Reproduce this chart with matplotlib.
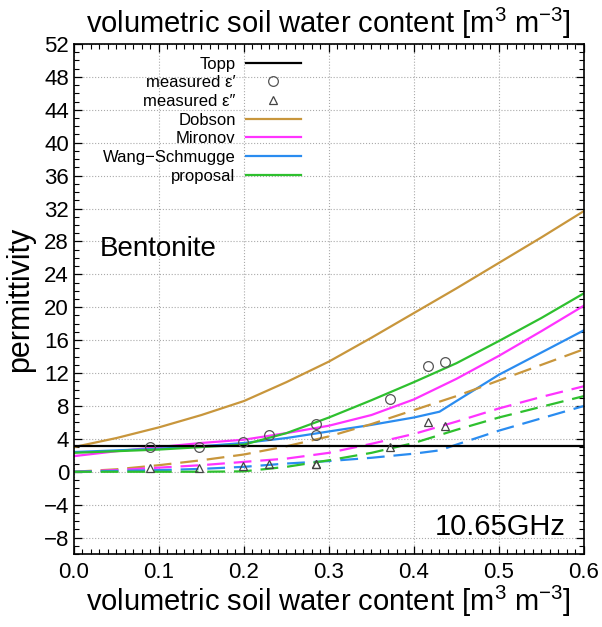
import numpy as np
import matplotlib
matplotlib.use('Agg')
import matplotlib.pyplot as plt
from matplotlib.ticker import MultipleLocator

plt.rcParams['font.family'] = ['Liberation Sans', 'DejaVu Sans']
plt.rcParams['mathtext.fontset'] = 'custom'
plt.rcParams['mathtext.rm'] = 'Liberation Sans'
plt.rcParams['mathtext.it'] = 'Liberation Sans:italic'
plt.rcParams['axes.unicode_minus'] = True

# ---- data ----
mv = [0, 0.05, 0.1, 0.15, 0.2, 0.25, 0.3, 0.35, 0.4, 0.45, 0.5, 0.55, 0.6]

topp_x = [0.0, 0.6]
topp_y = [3.1, 3.1]

dobson_re = [3.0, 4.1, 5.4, 6.9, 8.6, 10.9, 13.4, 16.3, 19.3, 22.3, 25.4, 28.5, 31.7]
dobson_im = [0.0, 0.3, 0.8, 1.4, 2.1, 3.1, 4.3, 5.8, 7.5, 9.2, 11.1, 13.0, 14.9]

mironov_re = [1.9, 2.5, 3.0, 3.5, 3.9, 4.7, 5.6, 6.9, 8.8, 11.3, 14.1, 17.1, 20.2]
mironov_im = [0.0, 0.2, 0.5, 0.8, 1.2, 1.6, 2.3, 3.4, 4.6, 6.1, 7.7, 9.1, 10.4]

ws_x = [0, 0.05, 0.1, 0.15, 0.2, 0.25, 0.3, 0.35, 0.4, 0.43, 0.45, 0.5, 0.55, 0.6]
ws_re = [2.4, 2.6, 2.8, 3.1, 3.5, 4.1, 4.9, 5.7, 6.6, 7.3, 8.6, 11.8, 14.5, 17.2]
ws_im = [0.0, 0.1, 0.2, 0.35, 0.6, 1.0, 1.3, 1.7, 2.2, 2.6, 3.3, 5.0, 6.5, 8.0]

prop_re = [2.3, 2.5, 2.7, 3.0, 3.3, 4.7, 6.6, 8.7, 10.9, 13.2, 15.9, 18.7, 21.7]
prop_im = [0.0, 0.0, 0.0, 0.0, 0.05, 0.6, 1.4, 2.3, 3.5, 5.1, 6.6, 7.9, 9.2]

meas_x = [0.089, 0.147, 0.199, 0.229, 0.285, 0.285, 0.372, 0.417, 0.437]
meas_re = [3.0, 3.0, 3.6, 4.5, 5.8, 4.5, 8.9, 12.9, 13.3]
meas_im = [0.45, 0.45, 0.7, 1.0, 1.0, 1.0, 3.0, 6.1, 5.6]

c_dobson = '#c8963c'
c_mironov = '#ff33ff'
c_ws = '#2a8cf0'
c_prop = '#2ec02e'

fig = plt.figure(figsize=(6.02, 6.27), dpi=100)
ax = fig.add_axes([0.1229, 0.1164, 0.8472, 0.8134])

lw = 1.6
dash = (8, 4)
ax.plot(topp_x, topp_y, color='black', lw=lw, label='Topp', zorder=3)
ax.plot(meas_x, meas_re, 'o', ms=7, mfc='none', mec='#555555', mew=0.9,
        label='measured \u03b5\u2032', zorder=5)
ax.plot(meas_x, meas_im, '^', ms=6, mfc='none', mec='#444444', mew=0.9,
        label='measured \u03b5\u2033', zorder=5)
ax.plot(mv, dobson_re, color=c_dobson, lw=lw, label='Dobson')
ax.plot(mv, mironov_re, color=c_mironov, lw=lw, label='Mironov')
ax.plot(ws_x, ws_re, color=c_ws, lw=lw, label='Wang\u2212Schmugge')
ax.plot(mv, prop_re, color=c_prop, lw=lw, label='proposal')

ax.plot(mv, dobson_im, color=c_dobson, lw=lw, dashes=dash)
ax.plot(mv, mironov_im, color=c_mironov, lw=lw, dashes=dash)
ax.plot(ws_x, ws_im, color=c_ws, lw=lw, dashes=dash)
ax.plot(mv, prop_im, color=c_prop, lw=lw, dashes=dash)

ax.set_xlim(0, 0.6)
ax.set_ylim(-10, 52)
ax.xaxis.set_major_locator(MultipleLocator(0.1))
ax.xaxis.set_minor_locator(MultipleLocator(0.01))
ax.yaxis.set_major_locator(MultipleLocator(4))
ax.yaxis.set_minor_locator(MultipleLocator(1))
ax.xaxis.set_major_formatter(plt.FuncFormatter(lambda v, p: f'{v:.1f}'))
ax.tick_params(which='both', direction='in', top=True, right=True, labelsize=16)
ax.tick_params(which='major', length=6, width=0.9)
ax.tick_params(which='minor', length=3.5, width=0.8)
ax.tick_params(axis='x', pad=6)
ax.grid(True, which='major', ls=':', lw=0.8, color='#aaaaaa')
for s in ax.spines.values():
    s.set_linewidth(1.2)

ax.set_xlabel('volumetric soil water content [m$^3$ m$^{-3}$]', fontsize=21, labelpad=0)
ax.set_ylabel('permittivity', fontsize=22, labelpad=6)
ax.set_title('volumetric soil water content [m$^3$ m$^{-3}$]', fontsize=21, pad=8)

ax.text(0.03, 27.1, 'Bentonite', fontsize=20, va='center', ha='left')
ax.text(0.578, -6.7, '10.65GHz', fontsize=21, va='center', ha='right')

leg = ax.legend(loc='upper right', bbox_to_anchor=(0.464, 0.995), frameon=False,
                markerfirst=False, fontsize=12, handlelength=3.3,
                handletextpad=0.6, labelspacing=0.22, borderaxespad=0.2)

fig.savefig('out.png', dpi=100)
